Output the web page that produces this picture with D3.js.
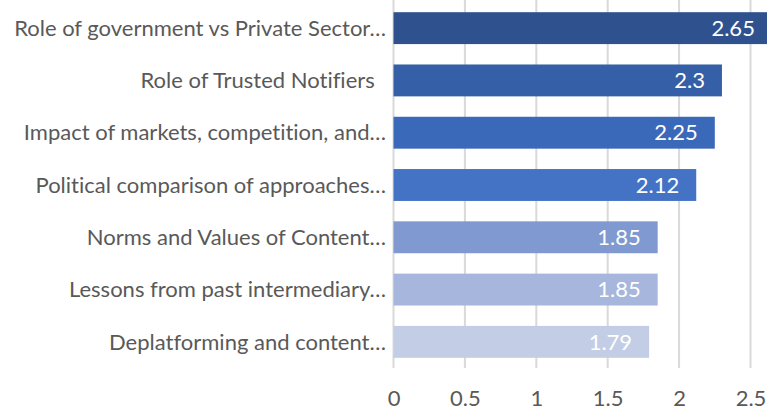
<!DOCTYPE html>
<html>
  <head>
    <script src="https://cdn.jsdelivr.net/npm/d3@7"></script>
    <style>
      body { margin: 0; background: #fff; }
      text { font-family: Lato, "Open Sans", sans-serif; font-variant-ligatures: none; }
    </style>
  </head>
  <body>
    <script>
      // data
      var categories = [
        "Role of government vs Private Sector…",
        "Role of Trusted Notifiers  ",
        "Impact of markets, competition, and…",
        "Political comparison of approaches…",
        "Norms and Values of Content…",
        "Lessons from past intermediary…",
        "Deplatforming and content…"
      ];
      var values = [2.65, 2.3, 2.25, 2.12, 1.85, 1.85, 1.79];
      var colors = ["#2F528F", "#355FA6", "#3B69B9", "#4472C4", "#8099D0", "#A7B6DC", "#C3CDE6"];
      var tickValues = [0, 0.5, 1, 1.5, 2, 2.5];
      var tickLabels = ["0", "0.5", "1", "1.5", "2", "2.5"];

      var w = 767, h = 412;
      var fontSize = "22px";

      var svg = d3.select("body")
        .append("svg")
        .attr("width", w)
        .attr("height", h);

      // scales
      var x = d3.scaleLinear()
        .domain([0, 2.5])
        .range([393.5, 750.5]);

      var y = d3.scaleBand()
        .domain(categories)
        .range([2, 368])
        .paddingInner(0.39)
        .paddingOuter(0.195);

      // gridlines
      svg.selectAll(".grid")
        .data(tickValues)
        .enter()
        .append("line")
        .attr("x1", function(d) { return x(d); })
        .attr("x2", function(d) { return x(d); })
        .attr("y1", 0)
        .attr("y2", 368)
        .attr("stroke", "#D9D9D9")
        .attr("stroke-width", 2);

      // x axis tick labels
      var xAxis = d3.axisBottom(x)
        .tickValues(tickValues)
        .tickFormat(function(d, i) { return tickLabels[i]; })
        .tickSize(0)
        .tickPadding(0);

      var gx = svg.append("g")
        .attr("transform", "translate(0,398)")
        .call(xAxis);
      gx.select(".domain").remove();
      gx.selectAll("text")
        .attr("fill", "#595959")
        .attr("dy", "0.35em")
        .style("font-size", fontSize);

      // bars
      svg.selectAll(".bar")
        .data(values)
        .enter()
        .append("rect")
        .attr("x", x(0))
        .attr("y", function(d, i) { return y(categories[i]); })
        .attr("width", function(d) { return x(d) - x(0); })
        .attr("height", y.bandwidth())
        .attr("fill", function(d, i) { return colors[i]; });

      // value labels
      svg.selectAll(".val")
        .data(values)
        .enter()
        .append("text")
        .attr("x", function(d) { return x(d) - 17; })
        .attr("y", function(d, i) { return y(categories[i]) + y.bandwidth() / 2; })
        .attr("dy", "0.35em")
        .attr("text-anchor", "end")
        .attr("fill", "#fff")
        .style("font-size", fontSize)
        .text(function(d) { return d; });

      // category labels
      svg.selectAll(".cat")
        .data(categories)
        .enter()
        .append("text")
        .attr("x", 386)
        .attr("y", function(d) { return y(d) + y.bandwidth() / 2; })
        .attr("dy", "0.35em")
        .attr("text-anchor", "end")
        .attr("xml:space", "preserve")
        .attr("fill", "#595959")
        .style("font-size", fontSize)
        .style("white-space", "pre")
        .text(function(d) { return d; });
    </script>
  </body>
</html>
